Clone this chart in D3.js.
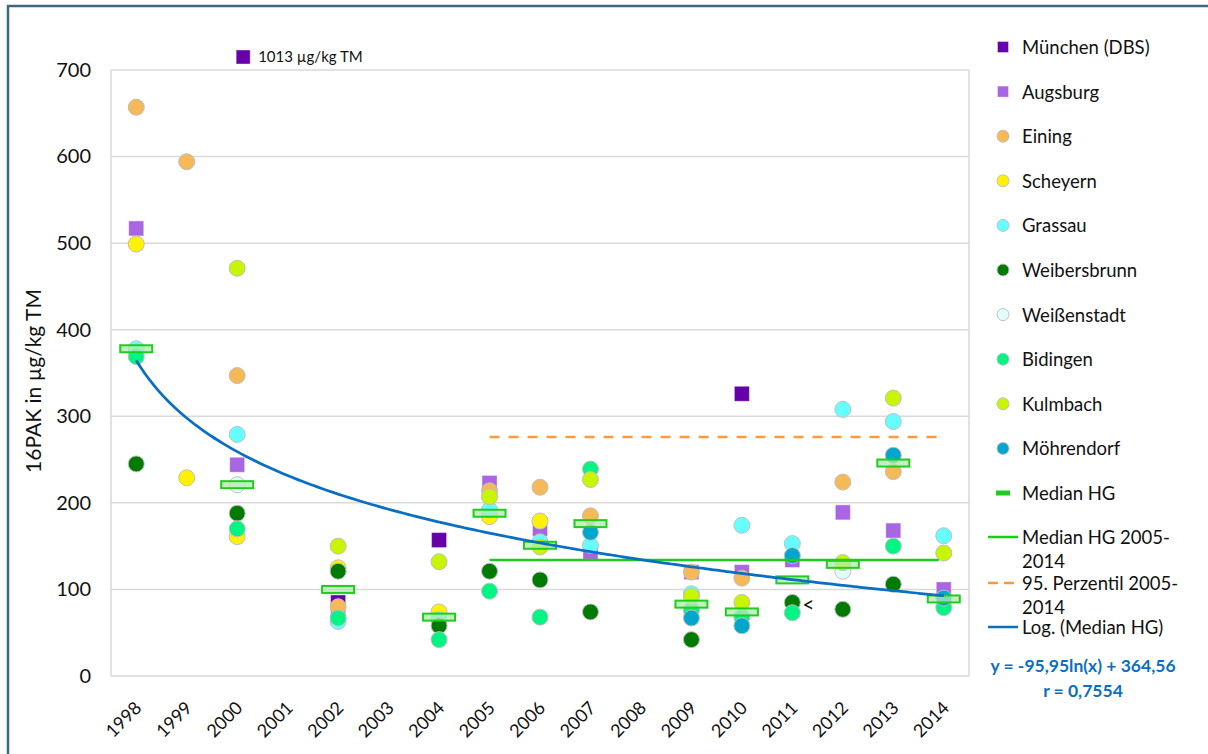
<!DOCTYPE html>
<html>
<head>
<meta charset="utf-8">
<script src="https://cdn.jsdelivr.net/npm/d3@7"></script>
<style>
  body { margin: 0; background: #fff; }
  text { font-family: Lato, "Noto Sans", sans-serif; fill: #111; }
</style>
</head>
<body>
<div id="chart"></div>
<script>
// years on the axis, and the years that carry samples
const tickYears = d3.range(1998, 2015);
const years = [1998, 1999, 2000, 2002, 2004, 2005, 2006, 2007, 2009, 2010, 2011, 2012, 2013, 2014];

// 16PAK in µg/kg TM per station (null = no sample)
const muenchen     = [null, null, 1013, 85, 157, null, null, null, null, 326, null, null, null, null];
const augsburg     = [517, null, 244, 72, null, 223, 170, 142, 120, 120, 134, 189, 168, 100];
const eining       = [657, 594, 347, 80, null, 214, 218, 185, 120, 113, null, 224, 236, null];
const scheyern     = [499, 229, 161, 125, 74, 184, 179, null, null, null, null, null, null, null];
const grassau      = [378, null, 279, 63, 65, 192, 155, 151, 95, 174, 153, 308, 294, 162];
const weibersbrunn = [245, null, 188, 121, 58, 121, 111, 74, 42, null, 85, 77, 106, null];
const weissenstadt = [null, null, 221, null, null, null, null, null, null, null, null, 121, null, null];
const bidingen     = [369, null, 170, 67, 42, 98, 68, 239, 76, 68, 73, null, 150, 79];
const kulmbach     = [null, null, 471, 150, 132, 207, 149, 227, 92, 85, null, 131, 321, 142];
const moehrendorf  = [null, null, null, null, null, null, null, 166, 67, 58, 139, null, 255, 90];
const medianHG     = [378, null, 221, 100, 68, 188, 151, 176, 83, 74, 111, 129, 246, 89];

// reference lines 2005-2014 and the log trend of the medians
const median0514 = 134;
const perz95_0514 = 276;
const refYears = [2005, 2014];
const logA = -95.95, logB = 364.56;
const yTicks = [0, 100, 200, 300, 400, 500, 600, 700];

const series = [
  {name: "München (DBS)", values: muenchen, color: "#6600aa", shape: "square"},
  {name: "Augsburg", values: augsburg, color: "#aa66e2", shape: "square"},
  {name: "Eining", values: eining, color: "#f6b957", shape: "circle"},
  {name: "Scheyern", values: scheyern, color: "#fff200", shape: "circle"},
  {name: "Grassau", values: grassau, color: "#66ffff", shape: "circle"},
  {name: "Weibersbrunn", values: weibersbrunn, color: "#007a00", shape: "circle"},
  {name: "Weißenstadt", values: weissenstadt, color: "#e2ffff", shape: "circle"},
  {name: "Bidingen", values: bidingen, color: "#00f582", shape: "circle"},
  {name: "Kulmbach", values: kulmbach, color: "#c8f500", shape: "circle"},
  {name: "Möhrendorf", values: moehrendorf, color: "#00a6cc", shape: "circle"}
];

const w = 1208, h = 754;
const pLeft = 111, pRight = 969, pTop = 70, pBottom = 676;

const svg = d3.select("#chart").append("svg")
  .attr("width", w).attr("height", h);

const xScale = d3.scaleLinear().domain([1997.5, 2014.5]).range([pLeft, pRight]);
const yScale = d3.scaleLinear().domain([0, 700]).range([pBottom, pTop]);

// outer frame
svg.append("rect")
  .attr("x", 8).attr("y", 6).attr("width", 1300).attr("height", 900)
  .attr("fill", "none").attr("stroke", "#3e6882").attr("stroke-width", 2.5);

// grid
svg.selectAll(".grid")
  .data(yTicks)
  .enter()
  .append("line")
  .attr("x1", pLeft).attr("x2", pRight)
  .attr("y1", d => yScale(d)).attr("y2", d => yScale(d))
  .attr("stroke", "#d9d9d9").attr("stroke-width", 1.5);
svg.append("line")
  .attr("x1", pLeft).attr("x2", pLeft).attr("y1", pTop).attr("y2", pBottom)
  .attr("stroke", "#d9d9d9").attr("stroke-width", 1.5);
svg.append("line")
  .attr("x1", pRight).attr("x2", pRight).attr("y1", pTop).attr("y2", pBottom)
  .attr("stroke", "#d9d9d9").attr("stroke-width", 1.5);

// y axis labels
const yAxis = d3.axisLeft(yScale).tickValues(yTicks).tickSize(0).tickPadding(20);
const gy = svg.append("g").attr("transform", "translate(" + pLeft + ",0)").call(yAxis);
gy.select(".domain").remove();
gy.selectAll("text").style("font-size", "20px").attr("fill", "#111")
  .style("font-family", "Lato, 'Noto Sans', sans-serif");

// x axis labels, rotated
const xAxis = d3.axisBottom(xScale).tickValues(tickYears).tickFormat(d3.format("d")).tickSize(0);
const gx = svg.append("g").attr("transform", "translate(0," + pBottom + ")").call(xAxis);
gx.select(".domain").remove();
gx.selectAll("text")
  .style("font-size", "18px").attr("fill", "#111")
  .style("font-family", "Lato, 'Noto Sans', sans-serif")
  .style("text-anchor", "end")
  .attr("dy", null).attr("y", 0)
  .attr("transform", "translate(6,33) rotate(-45)");

svg.append("text")
  .attr("transform", "translate(41," + ((pTop + pBottom) / 2 + 8) + ") rotate(-90)")
  .style("text-anchor", "middle")
  .style("font-size", "21px")
  .text("16PAK in µg/kg TM");

// reference lines
svg.append("line")
  .attr("x1", xScale(refYears[0])).attr("x2", xScale(refYears[1]) - 5)
  .attr("y1", yScale(perz95_0514)).attr("y2", yScale(perz95_0514))
  .attr("stroke", "#ff9a3c").attr("stroke-width", 2.5).attr("stroke-dasharray", "10,9");

// points
function drawMarker(g, shape, color, x, y, size) {
  if (shape === "square") {
    g.append("rect")
      .attr("x", x - size / 2).attr("y", y - size / 2)
      .attr("width", size).attr("height", size)
      .attr("fill", color).attr("stroke", "#ffffff").attr("stroke-opacity", 0.4).attr("stroke-width", 1);
  } else {
    g.append("circle")
      .attr("cx", x).attr("cy", y).attr("r", size / 2)
      .attr("fill", color).attr("stroke", "#bfbfbf").attr("stroke-width", 1);
  }
}

const pts = svg.append("g");
series.forEach(function(s) {
  s.values.forEach(function(v, i) {
    if (v === null) return;
    if (v > 700) {
      // off-scale value: marker sits above the plot with its value
      drawMarker(pts, s.shape, s.color, xScale(years[i]) + 6, yScale(700) - 13, 14);
      svg.append("text")
        .attr("x", xScale(years[i]) + 21).attr("y", yScale(700) - 14)
        .attr("dominant-baseline", "central")
        .style("font-size", "15px")
        .text(v + " µg/kg TM");
      return;
    }
    drawMarker(pts, s.shape, s.color, xScale(years[i]), yScale(v), s.shape === "square" ? 15 : 16);
  });
});

// "<" below detection note for Weibersbrunn 2011
svg.append("text")
  .attr("x", xScale(2011) + 10).attr("y", yScale(weibersbrunn[years.indexOf(2011)]) + 1)
  .attr("dominant-baseline", "central")
  .style("font-size", "21px")
  .text("<");

// median of the years 2005-2014
svg.append("line")
  .attr("x1", xScale(refYears[0])).attr("x2", xScale(refYears[1]) - 5)
  .attr("y1", yScale(median0514)).attr("y2", yScale(median0514))
  .attr("stroke", "#1ccc1c").attr("stroke-width", 2.5);

// median boxes
svg.selectAll(".med")
  .data(years.map((y, i) => ({year: y, v: medianHG[i]})).filter(d => d.v !== null))
  .enter()
  .append("rect")
  .attr("x", d => xScale(d.year) - 16)
  .attr("y", d => yScale(d.v) - 3.5)
  .attr("width", 32).attr("height", 7)
  .attr("fill", "rgba(175,235,175,0.75)")
  .attr("stroke", "#1fcc1f").attr("stroke-width", 2);

// log trendline y = a ln(x) + b, x = 1 for 1998
const trend = d3.range(1998, 2014.01, 0.1).map(yr => [yr, logA * Math.log(yr - 1997) + logB]);
svg.append("path")
  .datum(trend)
  .attr("d", d3.line().x(d => xScale(d[0])).y(d => yScale(d[1])).curve(d3.curveMonotoneX))
  .attr("fill", "none").attr("stroke", "#0a6fc2").attr("stroke-width", 2.75);

// legend
const lgX = 1003, lgText = 1022;
const lg = svg.append("g");
series.forEach(function(s, i) {
  const ly = 47 + i * 44.6;
  drawMarker(lg, s.shape, s.color, lgX, ly, s.shape === "square" ? 11 : 12);
  lg.append("text").attr("x", lgText).attr("y", ly)
    .attr("dominant-baseline", "central").style("font-size", "18.5px").text(s.name);
});
const medY = 47 + 10 * 44.6;
lg.append("rect").attr("x", lgX - 7).attr("y", medY - 2.5).attr("width", 14).attr("height", 5)
  .attr("fill", "#1fcc1f");
lg.append("text").attr("x", lgText).attr("y", medY)
  .attr("dominant-baseline", "central").style("font-size", "18.5px").text("Median HG");

const lineItems = [
  {lines: ["Median HG 2005-", "2014"], y: 537, color: "#1ccc1c", dash: null},
  {lines: ["95. Perzentil 2005-", "2014"], y: 583, color: "#ff9a3c", dash: "10,6"},
  {lines: ["Log. (Median HG)"], y: 627, color: "#0a6fc2", dash: null}
];
lineItems.forEach(function(it) {
  lg.append("line").attr("x1", 988).attr("x2", 1018).attr("y1", it.y).attr("y2", it.y)
    .attr("stroke", it.color).attr("stroke-width", 2.5).attr("stroke-dasharray", it.dash);
  it.lines.forEach(function(t, j) {
    lg.append("text").attr("x", lgText).attr("y", it.y + j * 24)
      .attr("dominant-baseline", "central").style("font-size", "18.5px").text(t);
  });
});

// trend equation
const eq = ["y = -95,95ln(x) + 364,56", "r = 0,7554"];
eq.forEach(function(t, j) {
  svg.append("text").attr("x", 1083).attr("y", 665 + j * 25)
    .attr("dominant-baseline", "central").style("text-anchor", "middle")
    .style("font-size", "17.5px").style("font-weight", "bold")
    .style("fill", "#0a6fc2").text(t);
});
</script>
</body>
</html>
